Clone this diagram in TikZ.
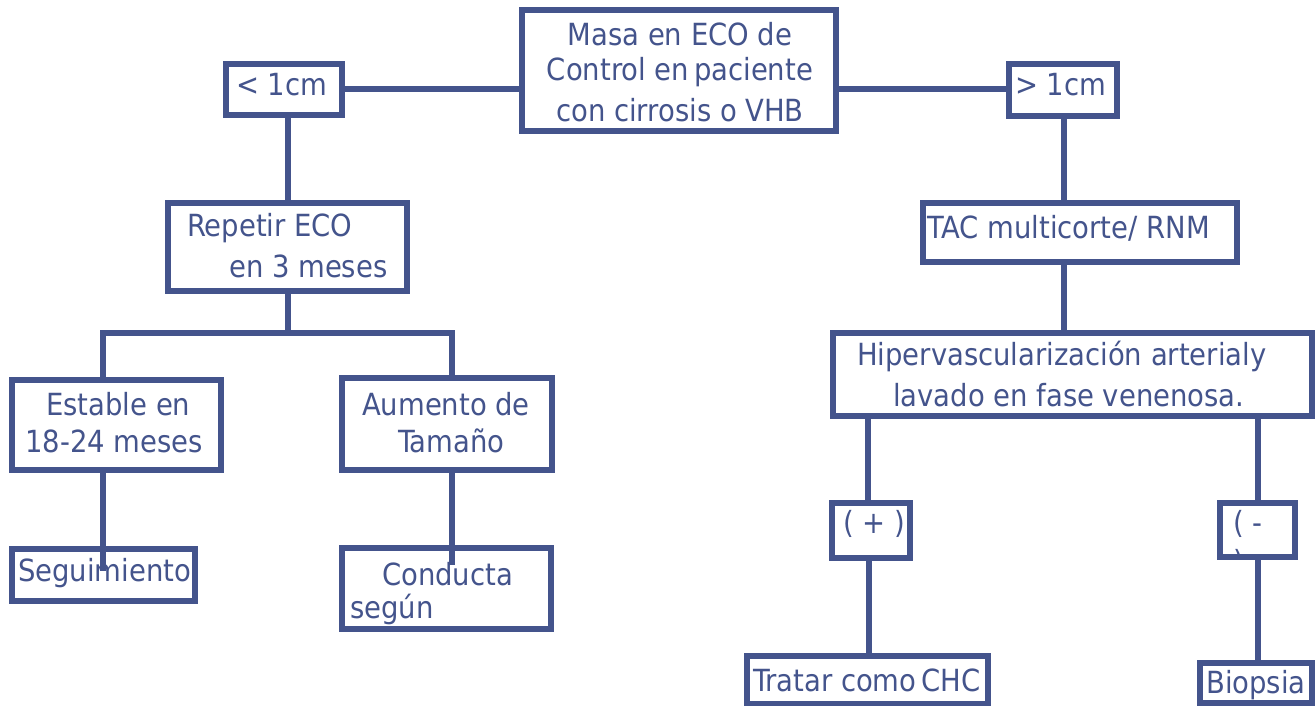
\documentclass[tikz,border=0pt]{standalone}
\usepackage{fontspec}
\setmainfont{DejaVu Sans Condensed}
\definecolor{bl}{RGB}{68,84,140}
\begin{document}
\begin{tikzpicture}[x=1pt,y=-1pt,
  box/.style={draw=bl,line width=5.5pt,fill=white},
  ln/.style={draw=bl,line width=5.5pt},
  tx/.style={text=bl,font=\fontsize{30.5}{37}\selectfont,anchor=west,inner sep=0pt}]
\useasboundingbox (0,0) rectangle (1315,706);
\node[box,minimum width=314pt,minimum height=121pt] (top) at (679,70.5) {};
\node[box,minimum width=116pt,minimum height=51pt] (lt) at (284,89.5) {};
\node[box,minimum width=108pt,minimum height=52pt] (gt) at (1063,90) {};
\node[box,minimum width=239pt,minimum height=88pt] (rep) at (287.5,247) {};
\node[box,minimum width=314pt,minimum height=59pt] (tac) at (1080,232.5) {};
\node[box,minimum width=479pt,minimum height=83pt] (hip) at (1072.5,374.5) {};
\node[box,minimum width=209pt,minimum height=90pt] (est) at (116.5,425) {};
\node[box,minimum width=210pt,minimum height=92pt] (aum) at (447,424) {};
\node[box,minimum width=183pt,minimum height=52pt] (seg) at (103.5,575) {};
\node[box,minimum width=209pt,minimum height=81pt] (con) at (446.5,588.5) {};
\node[box,minimum width=78pt,minimum height=55pt] (pos) at (871,530.5) {};
\node[box,minimum width=75pt,minimum height=54pt] (neg) at (1257.5,530) {};
\node[box,minimum width=241pt,minimum height=48pt] (tra) at (867.5,680) {};
\node[box,minimum width=112pt,minimum height=40pt] (bio) at (1256,683) {};
% partially hidden second line in the (-) box
\begin{scope}
\clip (1223,506) rectangle (1292,553);
\node[tx] (t19b) at (1233,563) {) -};
\end{scope}
% lines
\draw[ln] (lt.east|-0,89) -- (top.west|-0,89);
\draw[ln] (top.east|-0,89) -- (gt.west|-0,89);
\draw[ln] (lt.south-|288,0) -- (rep.north-|288,0);
\draw[ln] (rep.south-|288,0) -- (288,333);
\draw[ln] (est.north-|103,0) -- (103,333) -- (452,333) -- (aum.north-|452,0);
\draw[ln] (gt.south-|1064,0) -- (tac.north-|1064,0);
\draw[ln] (tac.south-|1064,0) -- (hip.north-|1064,0);
\draw[ln] (hip.south-|868,0) -- (pos.north-|868,0);
\draw[ln] (hip.south-|1258,0) -- (neg.north-|1258,0);
\coordinate (segin) at (103,571);
\coordinate (conin) at (452,565);
\draw[ln] (est.south-|103,0) -- (segin);
\draw[ln] (aum.south-|452,0) -- (conin);
\coordinate (posin) at (869,556);
\coordinate (negin) at (1258,556);
\draw[ln] (posin) -- (tra.north-|869,0);
\draw[ln] (negin) -- (bio.north-|1258,0);
% texts
\node[tx,anchor=center] (t1) at (680,34) {Masa en ECO de};
\node[tx,anchor=center] (t2) at (680,72) {Control en\,paciente};
\node[tx,anchor=center] (t3) at (680,110) {con cirrosis o VHB};
\node[tx] (t4) at (236,85) {< 1cm};
\node[tx] (t5) at (1015,85) {> 1cm};
\node[tx] (t6) at (187,228) {Repetir ECO};
\node[tx] (t7) at (229,266) {en 3 meses};
\node[tx] (t8) at (927,228) {TAC multicorte/ RNM};
\node[tx] (t9) at (857,356) {Hipervascularización arterialy};
\node[tx] (t10) at (893,395) {lavado en fase venenosa.};
\node[tx] (t11) at (46,404) {Estable en};
\node[tx] (t12) at (25,441) {18-24 meses};
\node[tx] (t13) at (362,404) {Aumento de};
\node[tx] (t14) at (398,441) {Tamaño};
\node[tx] (t15) at (18,573) {Seguimiento};
\node[tx] (t16) at (382,574) {Conducta};
\node[tx] (t17) at (350,609) {según};
\node[tx] (t18) at (843,524) {( + )};
\node[tx] (t19) at (1233,524) {( -};
\node[tx] (t20) at (753,680) {Tratar como\,CHC};
\node[tx] (t21) at (1206,685) {Biopsia};
\end{tikzpicture}
\end{document}
